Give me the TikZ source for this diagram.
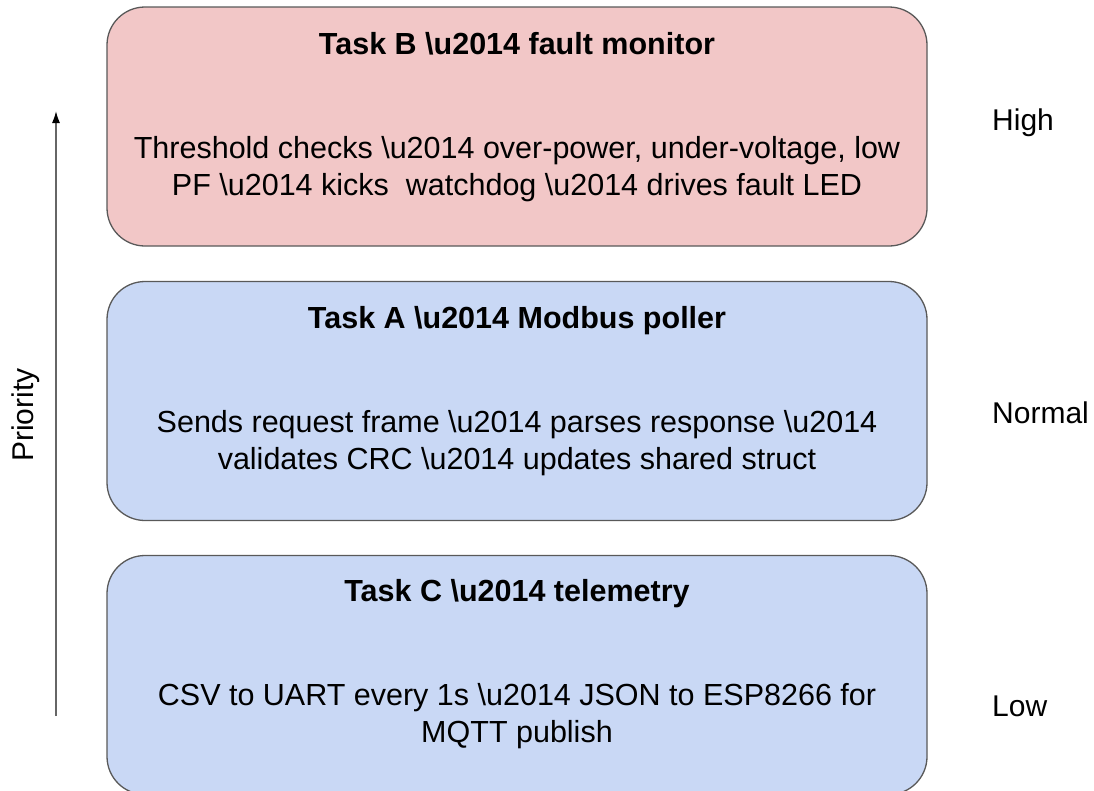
\documentclass[tikz,border=0pt]{standalone}
\usepackage{fontspec}
\setmainfont{Liberation Sans}
\usetikzlibrary{arrows.meta, positioning}
\definecolor{faultpink}{HTML}{F2C7C7}
\definecolor{taskblue}{HTML}{C9D8F5}
\definecolor{edgegray}{HTML}{595959}

\begin{document}
\begin{tikzpicture}[
  x=1pt, y=-1pt,
  task/.style={rectangle, draw=edgegray, line width=1.3pt, rounded corners=38pt,
    minimum width=820pt, minimum height=239pt},
  high/.style={task, fill=faultpink},
  normal/.style={task, fill=taskblue},
  title/.style={font=\fontsize{30.5}{36}\selectfont\bfseries, inner sep=0pt},
  body/.style={font=\fontsize{30.5}{37}\selectfont, align=center, inner sep=0pt},
  level/.style={font=\fontsize{30}{36}\selectfont, anchor=west, inner sep=0pt}
]
  \useasboundingbox (0,0) rectangle (1094,790);

  \node[high] (taskb) at (517,126.5) {};
  \node[normal] (taska) at (517,401) {};
  \node[normal] (taskc) at (517,675) {};

  \node[title] (taskbtitle) at (517,43.5) {Task B \textbackslash u2014 fault monitor};
  \node[body] (taskbbody) at (517,169)
    {Threshold checks \textbackslash u2014 over-power, under-voltage, low\\
     PF \textbackslash u2014 kicks\ \ watchdog \textbackslash u2014 drives fault LED};

  \node[title] (taskatitle) at (517,320.5) {Task A \textbackslash u2014 Modbus poller};
  \node[body] (taskabody) at (517,443)
    {Sends request frame \textbackslash u2014 parses response \textbackslash u2014\\
     validates CRC \textbackslash u2014 updates shared struct};

  \node[title] (taskctitle) at (517,593.5) {Task C \textbackslash u2014 telemetry};
  \node[body] (taskcbody) at (517,716.5)
    {CSV to UART every 1s \textbackslash u2014 JSON to ESP8266 for\\
     MQTT publish};

  \node[level] (lhigh) at (992,122.5) {High};
  \node[level] (lnormal) at (992,413) {Normal};
  \node[level] (llow) at (992,706.5) {Low};

  % priority axis
  \coordinate (ptail) at (56,716);
  \coordinate (phead) at (56,111);
  \draw[line width=1.6pt, draw=black!60, -{Latex[length=12pt, width=8pt, black]}]
    (ptail) -- (phead);
  \node[rotate=90, font=\fontsize{30}{36}\selectfont, inner sep=0pt] (prio)
    at (26,415) {Priority};
\end{tikzpicture}
\end{document}
